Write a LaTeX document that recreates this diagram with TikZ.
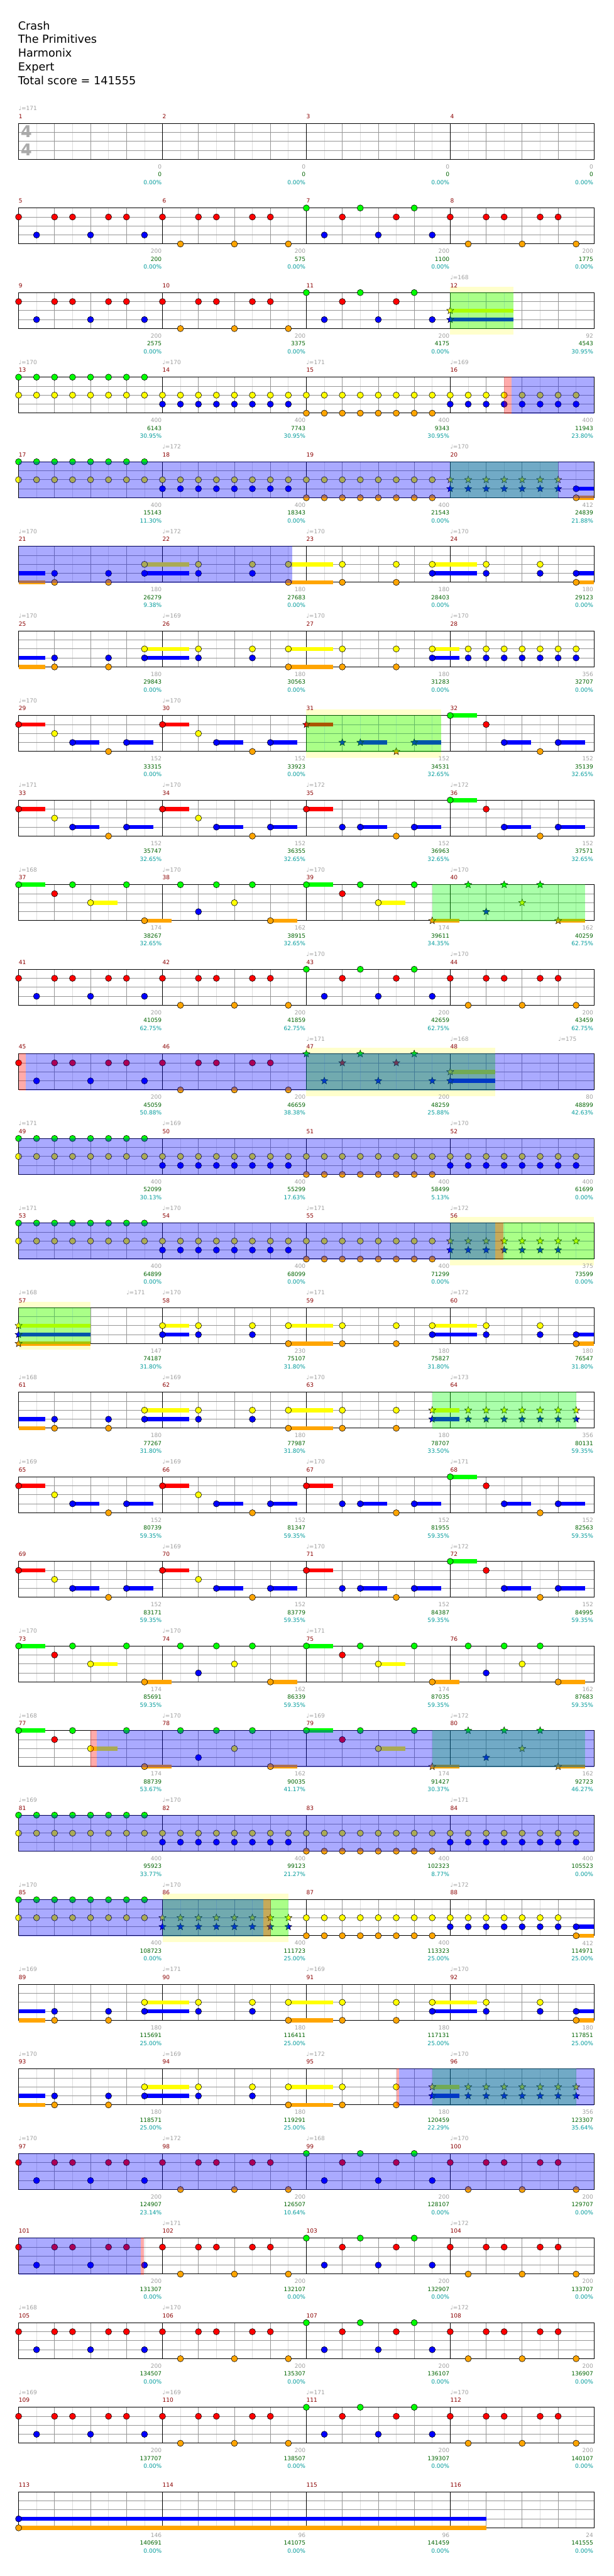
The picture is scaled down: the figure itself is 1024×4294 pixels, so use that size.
\documentclass[tikz,border=0pt]{standalone}
\usepackage{fontspec}
\setmainfont{DejaVu Sans}
\usetikzlibrary{shapes.geometric}
\definecolor{cG}{RGB}{0,255,0}
\definecolor{cR}{RGB}{255,0,0}
\definecolor{cY}{RGB}{255,255,0}
\definecolor{cB}{RGB}{0,0,255}
\definecolor{cO}{RGB}{255,165,0}
\definecolor{lgr}{RGB}{221,221,221}
\definecolor{mgr}{RGB}{150,150,150}
\definecolor{tgr}{RGB}{160,160,160}
\definecolor{sgr}{RGB}{170,170,170}
\definecolor{dred}{RGB}{139,0,0}
\definecolor{dgrn}{RGB}{0,100,0}
\definecolor{tl}{RGB}{0,155,155}
\definecolor{band}{RGB}{255,255,204}
\tikzset{
 rowat/.style={shift={(31,{205.7+141*#1})},x=30pt,y=-15pt},
 nt/.style={draw=black,line width=0.6pt},
 starn/.style={star,star points=5,star point ratio=2.3,minimum size=12.5pt,inner sep=0pt,draw=black,line width=0.5pt},
 lgrid/.style={draw=lgr,line width=0.8pt},
 mgrid/.style={draw=mgr,line width=0.8pt},
 barl/.style={draw=black,line width=1pt},
 mnum/.style={text=dred,anchor=west,inner sep=0pt,font=\fontsize{9.5}{11}\selectfont},
 tmpo/.style={text=tgr,anchor=west,inner sep=0pt,font=\fontsize{9.5}{11}\selectfont},
 lab/.style={anchor=east,inner sep=0pt,font=\fontsize{9.5}{11}\selectfont},
 ttl/.style={anchor=base west,inner sep=0pt,font=\fontsize{18.5}{23}\selectfont},
 sig/.style={text=sgr,inner sep=0pt,font=\fontsize{27}{27}\selectfont\bfseries},
}
% primitives
\newcommand\nte[3]{\filldraw[nt,fill=#3] ({#2},#1) circle[radius=5.2pt];}
\newcommand\stn[3]{\node[starn,fill=#3] at ({#2},#1) {};}
\newcommand\sus[4]{\fill[#4] ({#2},{#1-0.23}) rectangle ({#3},{#1+0.23});}
\newcommand\lsn[4]{\foreach \ii in {#3}{\nte{#1}{#2+\ii}{#4}}}
\newcommand\lss[4]{\foreach \ii in {#3}{\stn{#1}{#2+\ii}{#4}}}
\newcommand\ovY[2]{\fill[band] (#1,-0.67) rectangle (#2,4.67);}
\newcommand\ovG[2]{\fill[cG,fill opacity=0.333] (#1,-0.04) rectangle (#2,4.04);}
\newcommand\ovB[2]{\fill[cB,fill opacity=0.333] (#1,-0.04) rectangle (#2,4.04);}
\newcommand\ovR[2]{\fill[cR,fill opacity=0.333] (#1,-0.04) rectangle (#2,4.04);}
\newcommand\labs[1]{\foreach \la/\lb/\lc [count=\li] in {#1}{%
 \node[lab,text=tgr] at ({8*\li-0.04},4.82) {\la};
 \node[lab,text=dgrn] at ({8*\li-0.04},5.69) {\lb};
 \node[lab,text=tl] at ({8*\li-0.04},6.55) {\lc};}}
\newcommand\tempos[1]{\foreach \ta/\tb in {#1}{\node[tmpo] at (\ta,-1.65) {♩=\tb};}}
% measure patterns
\newcommand\grA[1]{\lsn{1}{#1}{0,2,3,5,6}{cR}\lsn{3}{#1}{1,4,7}{cB}}
\newcommand\grB[1]{\lsn{1}{#1}{0,2,3,5,6}{cR}\lsn{4}{#1}{1,4,7}{cO}}
\newcommand\grC[1]{\lsn{0}{#1}{0,3,6}{cG}\lsn{1}{#1}{2,5}{cR}\lsn{3}{#1}{1,4,7}{cB}}
\newcommand\groove{\grA{0}\grB{8}\grC{16}\grB{24}}
\newcommand\qGY[1]{\lsn{0}{#1}{0,...,7}{cG}\lsn{2}{#1}{0,...,7}{cY}}
\newcommand\qYB[1]{\lsn{2}{#1}{0,...,7}{cY}\lsn{3}{#1}{0,...,7}{cB}}
\newcommand\qYO[1]{\lsn{2}{#1}{0,...,7}{cY}\lsn{4}{#1}{0,...,7}{cO}}
\newcommand\mX[1]{\sus{3}{#1}{#1+1.5}{cB}\sus{4}{#1}{#1+1.5}{cO}\sus{2}{#1+7}{#1+9.5}{cY}\sus{3}{#1+7}{#1+9.5}{cB}\lsn{3}{#1}{2,5,7}{cB}\lsn{4}{#1}{2,5}{cO}\lsn{2}{#1}{7}{cY}}
\newcommand\mY[1]{\sus{2}{#1+7}{#1+9.5}{cY}\sus{4}{#1+7}{#1+9.5}{cO}\lsn{2}{#1}{2,5,7}{cY}\lsn{3}{#1}{2,5}{cB}\lsn{4}{#1}{7}{cO}}
\newcommand\mZ[1]{\sus{2}{#1+7}{#1+9.5}{cY}\sus{3}{#1+7}{#1+9.5}{cB}\lsn{2}{#1}{2,5,7}{cY}\lsn{4}{#1}{2,5}{cO}\lsn{3}{#1}{7}{cB}}
\newcommand\mW[1]{\sus{3}{#1+7}{#1+8}{cB}\sus{4}{#1+7}{#1+8}{cO}\lsn{2}{#1}{2,5}{cY}\lsn{3}{#1}{2,5,7}{cB}\lsn{4}{#1}{7}{cO}}
\newcommand\mR[1]{\sus{1}{#1}{#1+1.5}{cR}\sus{3}{#1+3}{#1+4.5}{cB}\sus{3}{#1+6}{#1+7.5}{cB}\lsn{1}{#1}{0}{cR}\lsn{2}{#1}{2}{cY}\lsn{3}{#1}{3,6}{cB}\lsn{4}{#1}{5}{cO}}
\newcommand\mRb[1]{\sus{1}{#1}{#1+1.5}{cR}\sus{3}{#1+3}{#1+4.5}{cB}\sus{3}{#1+6}{#1+7.5}{cB}\lsn{1}{#1}{0}{cR}\lsn{3}{#1}{2,3,6}{cB}\lsn{4}{#1}{5}{cO}}
\newcommand\mGq[1]{\sus{0}{#1}{#1+1.5}{cG}\sus{3}{#1+3}{#1+4.5}{cB}\sus{3}{#1+6}{#1+7.5}{cB}\lsn{0}{#1}{0}{cG}\lsn{1}{#1}{2}{cR}\lsn{3}{#1}{3,6}{cB}\lsn{4}{#1}{5}{cO}}
\newcommand\rowNine{\mR{0}\mR{8}\mRb{16}\mGq{24}}
\newcommand\mS[1]{\sus{0}{#1}{#1+1.5}{cG}\sus{2}{#1+4}{#1+5.5}{cY}\sus{4}{#1+7}{#1+8.5}{cO}\lsn{0}{#1}{0,3,6}{cG}\lsn{1}{#1}{2}{cR}\lsn{2}{#1}{4}{cY}\lsn{4}{#1}{7}{cO}}
\newcommand\mSs[1]{\sus{0}{#1}{#1+1.5}{cG}\sus{2}{#1+4}{#1+5.5}{cY}\sus{4}{#1+7}{#1+8.5}{cO}\lsn{0}{#1}{0,3,6}{cG}\lsn{1}{#1}{2}{cR}\lsn{2}{#1}{4}{cY}\lss{4}{#1}{7}{cO}}
\newcommand\mT[1]{\sus{4}{#1+6}{#1+7.5}{cO}\lsn{0}{#1}{1,3,5}{cG}\lsn{3}{#1}{2}{cB}\lsn{2}{#1}{4}{cY}\lsn{4}{#1}{6}{cO}}
\newcommand\mTs[1]{\sus{4}{#1+6}{#1+7.5}{cO}\lss{0}{#1}{1,3,5}{cG}\lss{3}{#1}{2}{cB}\lss{2}{#1}{4}{cY}\lss{4}{#1}{6}{cO}}
\newcommand\mEnd{\lsn{2}{16}{2,5}{cY}\lsn{4}{16}{2,5}{cO}\sus{2}{23}{24.5}{cY}\sus{3}{23}{24.5}{cB}\stn{2}{23}{cY}\stn{3}{23}{cB}\lss{2}{24}{1,...,7}{cY}\lss{3}{24}{1,...,7}{cB}}
\begin{document}
\begin{tikzpicture}[x=1pt,y=-1pt]
\fill[white] (0,0) rectangle (1024,4294);
\useasboundingbox (0,0) rectangle (1024,4294);
% title
\node[ttl] (t1) at (30,49.3) {Crash};
\node[ttl] (t2) at (30,72.3) {The Primitives};
\node[ttl] (t3) at (30,95.3) {Harmonix};
\node[ttl] (t4) at (30,118.3) {Expert};
\node[ttl] (t5) at (30,141.3) {Total score = 141555};
% background bands
\begin{scope}[rowat=2]\ovY{24}{27.5}\end{scope}
\begin{scope}[rowat=7]\ovY{16}{23.5}\end{scope}
\begin{scope}[rowat=11]\ovY{16}{26.5}\end{scope}
\begin{scope}[rowat=13]\ovY{24}{32}\end{scope}
\begin{scope}[rowat=14]\ovY{0}{4}\end{scope}
\begin{scope}[rowat=21]\ovY{8}{15}\end{scope}
% grids
\foreach \rr in {0,...,28}{
\begin{scope}[rowat=\rr]
\foreach \g in {1,3,...,31}{\draw[lgrid] (\g,0) -- (\g,4);}
\foreach \g in {2,4,6,10,12,14,18,20,22,26,28,30}{\draw[mgrid] (\g,0) -- (\g,4);}
\foreach \lx in {1,2,3}{\draw[mgrid] (0,\lx) -- (32,\lx);}
\foreach \g in {8,16,24}{\draw[barl] (\g,0) -- (\g,4);}
\draw[barl] (0,0) rectangle (32,4);
\foreach \m in {0,...,3}{\pgfmathtruncatemacro\mn{4*\rr+\m+1}\node[mnum] at (8*\m,-0.78) {\mn};}
\end{scope}}
% row 1
\begin{scope}[rowat=0]
\node[sig] (s1) at (0.43,0.93) {4}; \node[sig] (s2) at (0.43,2.93) {4};
\tempos{0/171}
\labs{0/0/0.00\%,0/0/0.00\%,0/0/0.00\%,0/0/0.00\%}
\end{scope}
% row 2
\begin{scope}[rowat=1]
\groove
\labs{200/200/0.00\%,200/575/0.00\%,200/1100/0.00\%,200/1775/0.00\%}
\end{scope}
% row 3
\begin{scope}[rowat=2]
\grA{0}\grB{8}\grC{16}
\sus{2}{24}{27.5}{cY}\sus{3}{24}{27.5}{cB}\stn{2}{24}{cY}\stn{3}{24}{cB}
\ovG{24}{27.5}
\tempos{24/168}
\labs{200/2575/0.00\%,200/3375/0.00\%,200/4175/0.00\%,92/4543/30.95\%}
\end{scope}
% row 4
\begin{scope}[rowat=3]
\qGY{0}\qYB{8}\qYO{16}\qYB{24}
\ovR{27}{27.4}\ovB{27.4}{32}
\tempos{0/170,8/170,16/171,24/169}
\labs{400/6143/30.95\%,400/7743/30.95\%,400/9343/30.95\%,400/11943/23.80\%}
\end{scope}
% row 5
\begin{scope}[rowat=4]
\qGY{0}\qYB{8}\qYO{16}
\lss{2}{24}{0,...,6}{cY}\lss{3}{24}{0,...,6}{cB}
\sus{3}{31}{32}{cB}\sus{4}{31}{32}{cO}\nte{3}{31}{cB}\nte{4}{31}{cO}
\ovG{24}{30}\ovB{0}{32}
\tempos{8/172,24/170}
\labs{400/15143/11.30\%,400/18343/0.00\%,400/21543/0.00\%,412/24839/21.88\%}
\end{scope}
% row 6
\begin{scope}[rowat=5]
\mX{0}\mY{8}\mZ{16}\mW{24}
\ovB{0}{15.2}
\tempos{0/170,8/172,16/170,24/170}
\labs{180/26279/9.38\%,180/27683/0.00\%,180/28403/0.00\%,180/29123/0.00\%}
\end{scope}
% row 7
\begin{scope}[rowat=6]
\mX{0}\mY{8}
\lsn{2}{16}{2,5}{cY}\lsn{4}{16}{2,5}{cO}
\sus{2}{23}{24.5}{cY}\sus{3}{23}{24.5}{cB}\nte{2}{23}{cY}\nte{3}{23}{cB}
\lsn{2}{24}{1,...,7}{cY}\lsn{3}{24}{1,...,7}{cB}
\tempos{0/170,8/169,16/170,24/170}
\labs{180/29843/0.00\%,180/30563/0.00\%,180/31283/0.00\%,356/32707/0.00\%}
\end{scope}
% row 8
\begin{scope}[rowat=7]
\mR{0}\mR{8}
\sus{1}{16}{17.5}{cR}\sus{3}{19}{20.5}{cB}\sus{3}{22}{23.5}{cB}
\stn{1}{16}{cR}\stn{3}{18}{cB}\stn{3}{19}{cB}\stn{4}{21}{cO}\stn{3}{22}{cB}
\mGq{24}
\ovG{16}{23.5}
\tempos{0/170,8/170}
\labs{152/33315/0.00\%,152/33923/0.00\%,152/34531/32.65\%,152/35139/32.65\%}
\end{scope}
% row 9
\begin{scope}[rowat=8]
\rowNine
\tempos{0/171,8/170,16/172,24/172}
\labs{152/35747/32.65\%,152/36355/32.65\%,152/36963/32.65\%,152/37571/32.65\%}
\end{scope}
% row 10
\begin{scope}[rowat=9]
\mS{0}\mT{8}\mSs{16}\mTs{24}
\ovG{23}{31.5}
\tempos{0/168,8/170,16/170,24/170}
\labs{174/38267/32.65\%,162/38915/32.65\%,174/39611/34.35\%,162/40259/62.75\%}
\end{scope}
% row 11
\begin{scope}[rowat=10]
\groove
\tempos{16/170,24/170}
\labs{200/41059/62.75\%,200/41859/62.75\%,200/42659/62.75\%,200/43459/62.75\%}
\end{scope}
% row 12
\begin{scope}[rowat=11]
\grA{0}\grB{8}
\lss{0}{16}{0,3,6}{cG}\lss{1}{16}{2,5}{cR}\lss{3}{16}{1,4,7}{cB}
\sus{2}{24}{26.5}{cY}\sus{3}{24}{26.5}{cB}\stn{2}{24}{cY}\stn{3}{24}{cB}
\ovG{16}{26.5}\ovB{0.4}{32}\ovR{0}{0.4}
\tempos{16/171,24/168,30/175}
\labs{200/45059/50.88\%,200/46659/38.38\%,200/48259/25.88\%,80/48899/42.63\%}
\end{scope}
% row 13
\begin{scope}[rowat=12]
\qGY{0}\qYB{8}\qYO{16}\qYB{24}
\ovB{0}{32}
\tempos{0/171,8/169,24/170}
\labs{400/52099/30.13\%,400/55299/17.63\%,400/58499/5.13\%,400/61699/0.00\%}
\end{scope}
% row 14
\begin{scope}[rowat=13]
\qGY{0}\qYB{8}\qYO{16}
\lss{2}{24}{0,...,7}{cY}\lss{3}{24}{0,...,6}{cB}
\ovG{24}{32}\ovB{0}{26.5}\ovR{26.5}{26.94}
\tempos{0/171,8/170,16/171,24/172}
\labs{400/64899/0.00\%,400/68099/0.00\%,400/71299/0.00\%,375/73599/0.00\%}
\end{scope}
% row 15
\begin{scope}[rowat=14]
\sus{2}{0}{4}{cY}\sus{3}{0}{4}{cB}\sus{4}{0}{4}{cO}\stn{2}{0}{cY}\stn{3}{0}{cB}\stn{4}{0}{cO}
\sus{2}{8}{9.5}{cY}\sus{3}{8}{9.5}{cB}\nte{2}{8}{cY}\nte{3}{8}{cB}
\mY{8}\mZ{16}\mW{24}
\ovG{0}{4}
\tempos{0/168,6/171,8/170,16/171,24/172}
\labs{147/74187/31.80\%,230/75107/31.80\%,180/75827/31.80\%,180/76547/31.80\%}
\end{scope}
% row 16
\begin{scope}[rowat=15]
\mX{0}\mY{8}\mEnd
\ovG{23}{31}
\tempos{0/168,8/169,16/170,24/173}
\labs{180/77267/31.80\%,180/77987/31.80\%,180/78707/33.50\%,356/80131/59.35\%}
\end{scope}
% row 17
\begin{scope}[rowat=16]
\rowNine
\tempos{0/169,8/169,16/170,24/171}
\labs{152/80739/59.35\%,152/81347/59.35\%,152/81955/59.35\%,152/82563/59.35\%}
\end{scope}
% row 18
\begin{scope}[rowat=17]
\rowNine
\tempos{8/169,16/170,24/172}
\labs{152/83171/59.35\%,152/83779/59.35\%,152/84387/59.35\%,152/84995/59.35\%}
\end{scope}
% row 19
\begin{scope}[rowat=18]
\mS{0}\mT{8}\mS{16}\mT{24}
\tempos{0/170,8/170,16/171}
\labs{174/85691/59.35\%,162/86339/59.35\%,174/87035/59.35\%,162/87683/59.35\%}
\end{scope}
% row 20
\begin{scope}[rowat=19]
\mS{0}\mT{8}\mSs{16}\mTs{24}
\ovG{23}{31.5}\ovB{4.34}{32}\ovR{4}{4.34}
\tempos{0/168,8/170,16/169,24/172}
\labs{174/88739/53.67\%,162/90035/41.17\%,174/91427/30.37\%,162/92723/46.27\%}
\end{scope}
% row 21
\begin{scope}[rowat=20]
\qGY{0}\qYB{8}\qYO{16}\qYB{24}
\ovB{0}{32}
\tempos{0/169,8/170,24/171}
\labs{400/95923/33.77\%,400/99123/21.27\%,400/102323/8.77\%,400/105523/0.00\%}
\end{scope}
% row 22
\begin{scope}[rowat=21]
\qGY{0}
\lss{2}{8}{0,...,7}{cY}\lss{3}{8}{0,...,7}{cB}
\qYO{16}
\lsn{2}{24}{0,...,6}{cY}\lsn{3}{24}{0,...,6}{cB}
\sus{3}{31}{32}{cB}\sus{4}{31}{32}{cO}\nte{3}{31}{cB}\nte{4}{31}{cO}
\ovG{8}{15}\ovB{0}{13.6}\ovR{13.6}{14.03}
\tempos{0/170,8/170,24/172}
\labs{400/108723/0.00\%,400/111723/25.00\%,400/113323/25.00\%,412/114971/25.00\%}
\end{scope}
% row 23
\begin{scope}[rowat=22]
\mX{0}\mY{8}\mZ{16}\mW{24}
\tempos{0/169,8/171,16/169,24/170}
\labs{180/115691/25.00\%,180/116411/25.00\%,180/117131/25.00\%,180/117851/25.00\%}
\end{scope}
% row 24
\begin{scope}[rowat=23]
\mX{0}\mY{8}\mEnd
\ovG{23}{31}\ovB{21.17}{32}\ovR{21.02}{21.17}
\tempos{0/170,8/169,16/172,24/170}
\labs{180/118571/25.00\%,180/119291/25.00\%,180/120459/22.29\%,356/123307/35.64\%}
\end{scope}
% row 25
\begin{scope}[rowat=24]
\groove
\ovB{0}{32}
\tempos{0/170,8/172,16/168,24/170}
\labs{200/124907/23.14\%,200/126507/10.64\%,200/128107/0.00\%,200/129707/0.00\%}
\end{scope}
% row 26
\begin{scope}[rowat=25]
\groove
\ovB{0}{6.8}\ovR{6.8}{6.97}
\tempos{8/171,24/172}
\labs{200/131307/0.00\%,200/132107/0.00\%,200/132907/0.00\%,200/133707/0.00\%}
\end{scope}
% row 27
\begin{scope}[rowat=26]
\groove
\tempos{0/168,8/170,24/172}
\labs{200/134507/0.00\%,200/135307/0.00\%,200/136107/0.00\%,200/136907/0.00\%}
\end{scope}
% row 28
\begin{scope}[rowat=27]
\groove
\tempos{0/169,8/169,16/171,24/170}
\labs{200/137707/0.00\%,200/138507/0.00\%,200/139307/0.00\%,200/140107/0.00\%}
\end{scope}
% row 29
\begin{scope}[rowat=28]
\sus{3}{0}{26}{cB}\sus{4}{0}{26}{cO}\nte{3}{0}{cB}\nte{4}{0}{cO}
\labs{146/140691/0.00\%,96/141075/0.00\%,96/141459/0.00\%,24/141555/0.00\%}
\end{scope}
\end{tikzpicture}
\end{document}
